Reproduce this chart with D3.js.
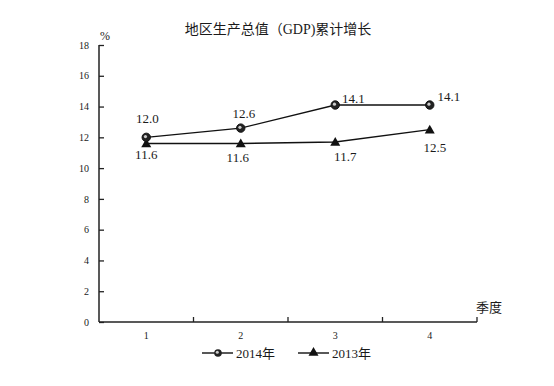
<!DOCTYPE html>
<html lang="zh">
<head>
<meta charset="UTF-8">
<title>地区生产总值（GDP)累计增长</title>
<script src="https://d3js.org/d3.v7.min.js"></script>
<style>
  body { margin: 0; background: #fff; }
  text { font-family: "Liberation Serif", "Noto Sans CJK SC", serif; fill: #1a1a1a; }
</style>
</head>
<body>
<svg id="chart" width="554" height="386"></svg>
<script>
// data
const quarters = ["1", "2", "3", "4"];
const gdp2014 = [12.0, 12.6, 14.1, 14.1];
const gdp2013 = [11.6, 11.6, 11.7, 12.5];
const yTicks = [0, 2, 4, 6, 8, 10, 12, 14, 16, 18];

// label offsets (dx, dy) relative to the point
const off2014 = [[1, -19], [3, -15], [18, -7], [19, -9]];
const off2013 = [[0, 11], [-3, 14], [10, 14], [5, 17]];

const svg = d3.select("#chart");
const mLeft = 99, mRight = 477, mTop = 45, mBottom = 322;

const x = d3.scaleBand().domain(quarters).range([mLeft, mRight]);
const y = d3.scaleLinear().domain([0, 18]).range([mBottom, mTop]);

// title
svg.append("text").attr("x", 278).attr("y", 34).attr("text-anchor", "middle")
  .attr("font-size", 14).text("地区生产总值（GDP)累计增长");

svg.append("text").attr("x", 105).attr("y", 40).attr("text-anchor", "middle")
  .attr("font-size", 12).text("%");
svg.append("text").attr("x", 489).attr("y", 312).attr("text-anchor", "middle")
  .attr("font-size", 13).text("季度");

// y axis
const yAxis = svg.append("g").attr("transform", `translate(${mLeft},0)`)
  .call(d3.axisRight(y).tickValues(yTicks).tickSize(5).tickFormat(d3.format("d")));
yAxis.select(".domain").attr("stroke", "#222").attr("stroke-width", 1.5).attr("d", `M0,${mBottom}V${mTop}`);
yAxis.selectAll(".tick line").attr("stroke", "#222").attr("stroke-width", 1.3);
yAxis.selectAll(".tick text").attr("x", -10).attr("text-anchor", "end")
  .attr("font-size", 10).attr("font-family", "Liberation Serif").attr("fill", "#1a1a1a");

// x axis: ticks between bands
const xg = svg.append("g");
xg.append("line").attr("x1", mLeft).attr("x2", mRight).attr("y1", mBottom).attr("y2", mBottom)
  .attr("stroke", "#222").attr("stroke-width", 1.5);
const bounds = quarters.map(q => x(q) + x.bandwidth());
xg.selectAll(".xt").data(bounds).join("line")
  .attr("x1", d => d).attr("x2", d => d).attr("y1", mBottom).attr("y2", mBottom - 5)
  .attr("stroke", "#222").attr("stroke-width", 1.3);
xg.selectAll(".xl").data(quarters).join("text")
  .attr("x", d => x(d) + x.bandwidth() / 2).attr("y", mBottom + 17)
  .attr("text-anchor", "middle").attr("font-size", 10).text(d => d);

const cx = q => x(q) + x.bandwidth() / 2;
const line = d3.line().x((d, i) => cx(quarters[i])).y(d => y(d));

function tri(px, py, s) {
  return `M${px},${py - s}L${px + s},${py + s * 0.75}L${px - s},${py + s * 0.75}Z`;
}

// 2013 series
svg.append("path").datum(gdp2013).attr("d", line).attr("fill", "none")
  .attr("stroke", "#111").attr("stroke-width", 1.4);
svg.selectAll(".t13").data(gdp2013).join("path")
  .attr("d", (d, i) => tri(cx(quarters[i]), y(d), 5)).attr("fill", "#111");

// 2014 series
svg.append("path").datum(gdp2014).attr("d", line).attr("fill", "none")
  .attr("stroke", "#111").attr("stroke-width", 1.4);
svg.selectAll(".c14").data(gdp2014).join("circle")
  .attr("cx", (d, i) => cx(quarters[i])).attr("cy", d => y(d)).attr("r", 4.2)
  .attr("fill", "#222").attr("stroke", "#111");
svg.selectAll(".c14h").data(gdp2014).join("circle")
  .attr("cx", (d, i) => cx(quarters[i]) - 0.8).attr("cy", d => y(d) - 0.8).attr("r", 1.6)
  .attr("fill", "#ccc");

// value labels
svg.selectAll(".l14").data(gdp2014).join("text")
  .attr("x", (d, i) => cx(quarters[i]) + off2014[i][0])
  .attr("y", (d, i) => y(d) + off2014[i][1] + 5)
  .attr("text-anchor", "middle").attr("font-size", 13).text(d => d.toFixed(1));
svg.selectAll(".l13").data(gdp2013).join("text")
  .attr("x", (d, i) => cx(quarters[i]) + off2013[i][0])
  .attr("y", (d, i) => y(d) + off2013[i][1] + 5)
  .attr("text-anchor", "middle").attr("font-size", 13).text(d => d.toFixed(1));

// legend
const lg = svg.append("g");
lg.append("line").attr("x1", 202).attr("x2", 233).attr("y1", 353).attr("y2", 353).attr("stroke", "#111").attr("stroke-width", 1.4);
lg.append("circle").attr("cx", 218).attr("cy", 353).attr("r", 3.8).attr("fill", "#222");
lg.append("circle").attr("cx", 217.3).attr("cy", 352.3).attr("r", 1.5).attr("fill", "#ccc");
lg.append("text").attr("x", 236).attr("y", 358).attr("font-size", 13).text("2014年");
lg.append("line").attr("x1", 298).attr("x2", 329).attr("y1", 353).attr("y2", 353).attr("stroke", "#111").attr("stroke-width", 1.4);
lg.append("path").attr("d", tri(313.5, 352, 5)).attr("fill", "#111");
lg.append("text").attr("x", 332).attr("y", 358).attr("font-size", 13).text("2013年");
</script>
</body>
</html>
